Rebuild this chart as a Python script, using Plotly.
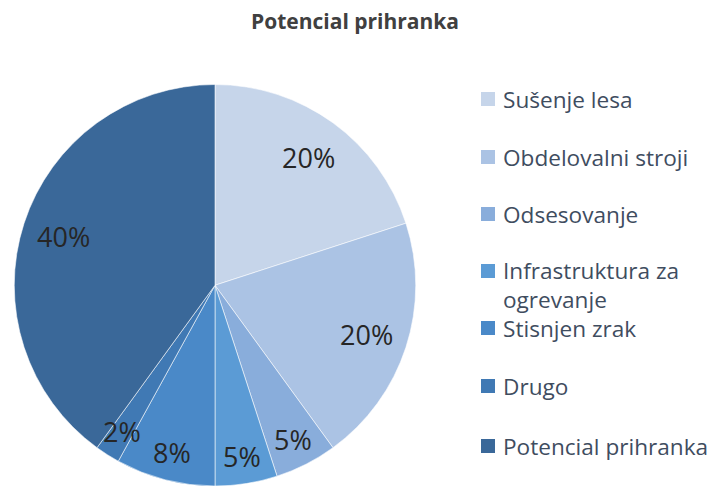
import math
import plotly.graph_objects as go

categories = ["Sušenje lesa", "Obdelovalni stroji", "Odsesovanje",
              "Infrastruktura za ogrevanje", "Stisnjen zrak", "Drugo",
              "Potencial prihranka"]
values = [20, 20, 5, 5, 8, 2, 40]
colors = ["#c6d5ea", "#abc3e4", "#89addb", "#5b9bd5", "#4a89c8", "#4079b4", "#3a6899"]
legend_labels = ["Sušenje lesa", "Obdelovalni stroji", "Odsesovanje",
                 "Infrastruktura za<br>ogrevanje", "Stisnjen zrak", "Drugo",
                 "Potencial prihranka"]

W, H = 713, 486
FONT = "Open Sans"

# pie placement (pixels)
CX, CY, R = 215, 285.5, 201

fig = go.Figure()
fig.add_trace(go.Pie(
    labels=categories, values=values, sort=False, direction="clockwise",
    rotation=0,
    marker=dict(colors=colors, line=dict(color="rgba(255,255,255,0.7)", width=0.8)),
    textinfo="none",
    showlegend=False, hoverinfo="label+percent",
    domain=dict(x=[(CX - R) / W, (CX + R) / W], y=[0, 1 - (CY - R) / H]),
))

# data labels, placed along each slice bisector
total = sum(values)
cum = 0
for v in values:
    mid = (cum + v / 2) / total * 2 * math.pi
    cum += v
    f = 0.86 if v / total < 0.1 else 0.79
    px = CX + R * f * math.sin(mid)
    py = CY - R * f * math.cos(mid)
    fig.add_annotation(x=px / W, y=1 - py / H, xref="paper", yref="paper",
                       text=f"{round(100 * v / total)}%", showarrow=False,
                       xanchor="center", yanchor="middle",
                       font=dict(family=FONT, size=27, color="#262626"))

# manual legend
ys = [99, 157, 214, 271, 328, 386, 446]
text_ys = [99, 157, 214, 284.5, 328, 386, 446]
for c, lab, y, ty in zip(colors, legend_labels, ys, text_ys):
    fig.add_shape(type="rect", xref="paper", yref="paper",
                  x0=481 / W, x1=495 / W, y0=1 - (y + 7) / H, y1=1 - (y - 7) / H,
                  fillcolor=c, line=dict(width=0))
    fig.add_annotation(x=501 / W, y=1 - ty / H, xref="paper", yref="paper",
                       text=lab, showarrow=False, xanchor="left", yanchor="middle",
                       align="left",
                       font=dict(family=FONT, size=22.6, color="#3f4d5f"))

fig.update_layout(
    width=W, height=H,
    margin=dict(l=0, r=0, t=0, b=0),
    paper_bgcolor="white", plot_bgcolor="white",
    title=dict(text="<b>Potencial prihranka</b>", x=355 / W, xanchor="center",
               y=1 - 22 / H, yanchor="middle",
               font=dict(family=FONT, size=21, color="#404040")),
)

fig.write_html("out.html", config={"displayModeBar": False},
               post_script="document.body.style.margin='0';")
